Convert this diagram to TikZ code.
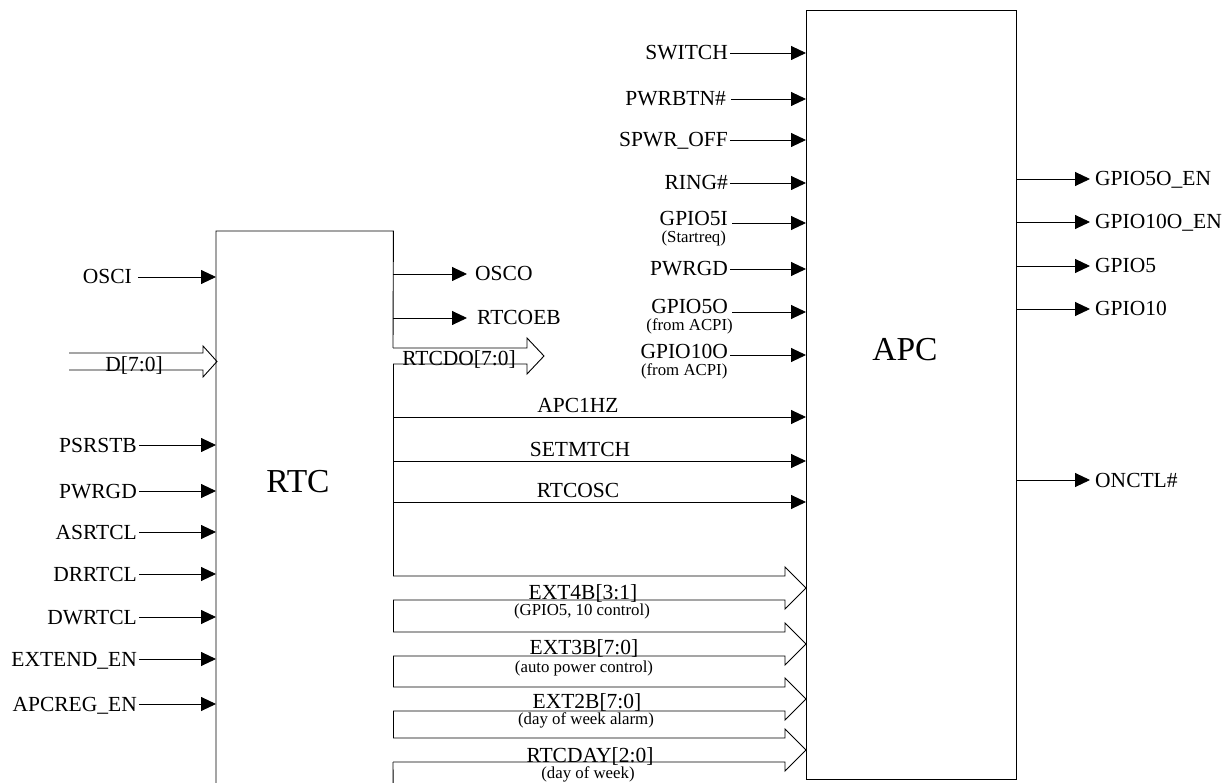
\documentclass[tikz,border=0pt]{standalone}
\usepackage{fontspec}
\setmainfont{Liberation Serif}
\usetikzlibrary{positioning,arrows.meta}

\begin{document}
\begin{tikzpicture}[
    x=1pt, y=-1pt,
    every node/.style={font=\fontsize{21.5}{24}\selectfont, inner sep=2pt, text height=14pt, text depth=0pt},
    small/.style={font=\fontsize{16.8}{19}\selectfont, text height=11pt},
    big/.style={font=\fontsize{33.5}{36}\selectfont, text height=22pt},
    block/.style={inner sep=0pt, anchor=north west},
    wire/.style={line width=0.9pt},
    sig/.style={wire, -{Triangle[length=15pt, width=14pt]}},
    over/.style={anchor=south, inner ysep=4pt}
]

\clip (0,0) rectangle (1231,783);

% Blocks
\node[block, minimum width=177pt, minimum height=600pt] (rtc) at (216,231) {};
\node[block, draw, wire, minimum width=210pt, minimum height=769pt] (apc) at (806,10) {};
\node[big] (rtcname) at (298,481) {RTC};
\node[big] (apcname) at (905,349) {APC};

% RTC outline (right side is opened by the buses)
\draw[wire] (rtc.south west) -- (rtc.north west) -- (rtc.north east) -- (393,348);
\draw[wire] (393,364) -- (393,576);
\draw[wire] (393,600) -- (393,632);
\draw[wire] (393,656) -- (393,687);
\draw[wire] (393,711) -- (393,738);
\draw[wire] (393,762) -- (rtc.south east);

% === RTC inputs ===
\node[anchor=east] (osci) at (134,277) {OSCI};
\node[anchor=east] (psrstb) at (139,445) {PSRSTB};
\node[anchor=east] (pwrgdr) at (139,491) {PWRGD};
\node[anchor=east] (asrtcl) at (139,532) {ASRTCL};
\node[anchor=east] (drrtcl) at (139,574) {DRRTCL};
\node[anchor=east] (dwrtcl) at (139,617) {DWRTCL};
\node[anchor=east] (extenden) at (139,659) {EXTEND\_EN};
\node[anchor=east] (apcregen) at (139,704) {APCREG\_EN};

\draw[sig, shorten <=4pt] (osci.east) -- (osci.east -| rtc.west);
\draw[sig] (psrstb.east) -- (psrstb.east -| rtc.west);
\draw[sig] (pwrgdr.east) -- (pwrgdr.east -| rtc.west);
\draw[sig] (asrtcl.east) -- (asrtcl.east -| rtc.west);
\draw[sig] (drrtcl.east) -- (drrtcl.east -| rtc.west);
\draw[sig] (dwrtcl.east) -- (dwrtcl.east -| rtc.west);
\draw[sig] (extenden.east) -- (extenden.east -| rtc.west);
\draw[sig] (apcregen.east) -- (apcregen.east -| rtc.west);

% D[7:0] bus
\draw[wire] (69,353) -- (203,353) -- (203,346) -- (217,361.5) -- (203,377) -- (203,370) -- (69,370);
\node (dbus) at (134,364) {D[7:0]};

% === RTC outputs ===
\node[anchor=west] (osco) at (473,274) {OSCO};
\node[anchor=west] (rtcoeb) at (475,318) {RTCOEB};
\draw[sig, shorten >=6pt] (osco.west -| rtc.east) -- (osco.west);
\draw[sig, shorten >=8pt] (rtcoeb.west -| rtc.east) -- (rtcoeb.west);

% RTCDO[7:0] bus
\draw[wire] (393,348) -- (527,348) -- (527,338) -- (544,356) -- (527,374) -- (527,364) -- (393,364);
\node (rtcdo) at (459,359) {RTCDO[7:0]};

% Single lines RTC -> APC
\node[over] (apc1hz) at (578,417) {APC1HZ};
\node[over] (setmtch) at (580,461) {SETMTCH};
\node[over] (rtcosc) at (578,502) {RTCOSC};
\draw[sig] (rtc.east |- apc1hz.south) -- (apc1hz.south -| apc.west);
\draw[sig] (rtc.east |- setmtch.south) -- (setmtch.south -| apc.west);
\draw[sig] (rtc.east |- rtcosc.south) -- (rtcosc.south -| apc.west);

% Buses RTC -> APC
\draw[wire] (393,576) -- (785,576) -- (785,567) -- (806,588) -- (785,609) -- (785,600) -- (393,600);
\draw[wire] (393,632) -- (785,632) -- (785,623) -- (806,644) -- (785,665) -- (785,656) -- (393,656);
\draw[wire] (393,687) -- (785,687) -- (785,678) -- (806,699) -- (785,720) -- (785,711) -- (393,711);
\draw[wire] (393,738) -- (785,738) -- (785,729) -- (806,750) -- (785,771) -- (785,762) -- (393,762);

\node (ext4b) at (583,592) {EXT4B[3:1]};
\node[small] (ext4bnote) at (582,610) {(GPIO5, 10 control)};
\node (ext3b) at (584,647) {EXT3B[7:0]};
\node[small] (ext3bnote) at (584,667) {(auto power control)};
\node (ext2b) at (587,701) {EXT2B[7:0]};
\node[small] (ext2bnote) at (586,719) {(day of week alarm)};
\node (rtcday) at (590,755) {RTCDAY[2:0]};
\node[small] (rtcdaynote) at (588,773) {(day of week)};

% === APC inputs ===
\node[anchor=east] (switch) at (730,53) {SWITCH};
\node[anchor=east] (pwrbtn) at (728,99) {PWRBTN\#};
\node[anchor=east] (spwroff) at (730,140) {SPWR\_OFF};
\node[anchor=east] (ring) at (730,183) {RING\#};
\node[anchor=east] (gpio5i) at (730,219) {GPIO5I};
\node[small, below=1pt of gpio5i] (gpio5inote) {(Startreq)};
\node[anchor=east] (pwrgda) at (730,269) {PWRGD};
\node[anchor=east] (gpio5o) at (730,307) {GPIO5O};
\node[small, below=1pt of gpio5o] (gpio5onote) {(from ACPI)};
\node[anchor=east] (gpio10o) at (730,352) {GPIO10O};
\node[small, below=1pt of gpio10o] (gpio10onote) {(from ACPI)};

\coordinate (gpio5iin) at (732,223);
\coordinate (gpio5oin) at (732,312);
\coordinate (gpio10oin) at (730,355);

\draw[sig] (switch.east) -- (switch.east -| apc.west);
\draw[sig, shorten <=3pt] (pwrbtn.east) -- (pwrbtn.east -| apc.west);
\draw[sig] (spwroff.east) -- (spwroff.east -| apc.west);
\draw[sig] (ring.east) -- (ring.east -| apc.west);
\draw[sig] (gpio5iin) -- (gpio5iin -| apc.west);
\draw[sig] (pwrgda.east) -- (pwrgda.east -| apc.west);
\draw[sig] (gpio5oin) -- (gpio5oin -| apc.west);
\draw[sig] (gpio10oin) -- (gpio10oin -| apc.west);

% === APC outputs ===
\node[anchor=west] (gpio5oen) at (1093,179) {GPIO5O\_EN};
\node[anchor=west] (gpio10oen) at (1093,222) {GPIO10O\_EN};
\node[anchor=west] (gpio5) at (1093,266) {GPIO5};
\node[anchor=west] (gpio10) at (1093,309) {GPIO10};
\node[anchor=west] (onctl) at (1093,480) {ONCTL\#};

\draw[sig, shorten >=3pt] (gpio5oen.west -| apc.east) -- (gpio5oen.west);
\draw[sig, shorten >=3pt] (gpio10oen.west -| apc.east) -- (gpio10oen.west);
\draw[sig, shorten >=3pt] (gpio5.west -| apc.east) -- (gpio5.west);
\draw[sig, shorten >=3pt] (gpio10.west -| apc.east) -- (gpio10.west);
\draw[sig, shorten >=3pt] (onctl.west -| apc.east) -- (onctl.west);

\end{tikzpicture}
\end{document}
